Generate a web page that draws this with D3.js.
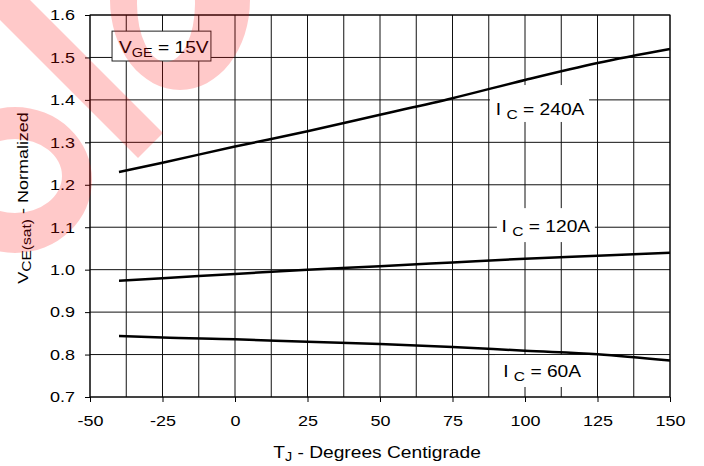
<!DOCTYPE html>
<html>
<head>
<meta charset="utf-8">
<script src="https://cdn.jsdelivr.net/npm/d3@7"></script>
<style>
  html, body { margin: 0; padding: 0; background: #fff; }
  svg { display: block; font-family: "Liberation Sans", Arial, sans-serif; }
</style>
</head>
<body>
<div id="chart"></div>
<script>
// junction temperature (deg C) where the curves were read
const temps = [-40, -25, 0, 25, 50, 75, 100, 125, 150];
// normalized VCE(sat) per collector current
const ic240 = [1.23, 1.252, 1.29, 1.326, 1.365, 1.404, 1.447, 1.487, 1.52];
const ic120 = [0.974, 0.98, 0.99, 1.0, 1.008, 1.017, 1.026, 1.033, 1.04];
const ic60 = [0.844, 0.84, 0.836, 0.83, 0.825, 0.818, 0.809, 0.801, 0.786];
const seriesNames = ["240A", "120A", "60A"];

const xTicks = [-50, -25, 0, 25, 50, 75, 100, 125, 150];
const yTicks = [0.7, 0.8, 0.9, 1.0, 1.1, 1.2, 1.3, 1.4, 1.5, 1.6];
const xGrid = d3.range(-50, 150.01, 12.5);

const W = 704, H = 466;
const margin = {top: 15, right: 34, bottom: 69, left: 90};
const width = W - margin.left - margin.right,
      height = H - margin.top - margin.bottom;
const SX = 1.2; // the source font is set wide

const x = d3.scaleLinear().domain([-50, 150]).range([0, width]);
const y = d3.scaleLinear().domain([0.7, 1.6]).range([height, 0]);

const svg = d3.select("#chart").append("svg")
    .attr("width", W)
    .attr("height", H);
svg.append("rect").attr("width", W).attr("height", H).attr("fill", "#fff");

const g = svg.append("g")
    .attr("transform", `translate(${margin.left},${margin.top})`);

// grid
g.append("g").selectAll("line")
    .data(xGrid).enter().append("line")
    .attr("x1", d => x(d)).attr("x2", d => x(d))
    .attr("y1", 0).attr("y2", height)
    .attr("stroke", "#111").attr("stroke-width", 1);
g.append("g").selectAll("line")
    .data(yTicks).enter().append("line")
    .attr("y1", d => y(d)).attr("y2", d => y(d))
    .attr("x1", 0).attr("x2", width)
    .attr("stroke", "#111").attr("stroke-width", 1);
g.append("rect")
    .attr("width", width).attr("height", height)
    .attr("fill", "none").attr("stroke", "#000");

// white boxes behind curve labels
const labels = [
  {name: seriesNames[0], x0: 87.9, x1: 122.1, y0: 1.435, y1: 1.348, tx: 105.2, ty: 1.364},
  {name: seriesNames[1], x0: 90.3, x1: 124.1, y0: 1.145, y1: 1.065, tx: 107.2, ty: 1.0887},
  {name: seriesNames[2], x0: 89.7, x1: 122.4, y0: 0.799, y1: 0.7236, tx: 105.9, ty: 0.747}
];
g.append("g").selectAll("rect")
    .data(labels).enter().append("rect")
    .attr("x", d => x(d.x0)).attr("width", d => x(d.x1) - x(d.x0))
    .attr("y", d => y(d.y0)).attr("height", d => y(d.y1) - y(d.y0))
    .attr("fill", "#fff");

// curves
const line = d3.line()
    .x((d, i) => x(temps[i]))
    .y(d => y(d))
    .curve(d3.curveMonotoneX);
g.append("g").selectAll("path")
    .data([ic240, ic120, ic60]).enter().append("path")
    .attr("d", line)
    .attr("fill", "none")
    .attr("stroke", "#000")
    .attr("stroke-width", 2.5);

// curve labels
const lt = g.append("g").selectAll("text")
    .data(labels).enter().append("text")
    .attr("transform", d => `translate(${x(d.tx)},${y(d.ty)}) scale(${SX},1)`)
    .attr("text-anchor", "middle")
    .attr("font-size", 16)
    .attr("fill", "#000");
lt.append("tspan").text("I ");
lt.append("tspan").attr("dy", 4).attr("font-size", 13).text("C");
lt.append("tspan").attr("dy", -4).text(d => " = " + d.name);

// VGE box
g.append("rect")
    .attr("x", x(-42.4)).attr("width", x(-8.3) - x(-42.4))
    .attr("y", y(1.562)).attr("height", y(1.4916) - y(1.562))
    .attr("fill", "#fff").attr("stroke", "#222");
const vt = g.append("text")
    .attr("transform", `translate(${x(-40)},${y(1.5105)}) scale(${SX},1)`)
    .attr("font-size", 16).attr("fill", "#000");
vt.append("tspan").text("V");
vt.append("tspan").attr("dy", 4).attr("font-size", 12).text("GE");
vt.append("tspan").attr("dy", -4).text(" = 15V");

// axes
const xAxis = g.append("g")
    .attr("transform", `translate(0,${height})`)
    .call(d3.axisBottom(x).tickValues(xTicks).tickSizeInner(5).tickSizeOuter(0).tickFormat(d => String(d)));
const yAxis = g.append("g")
    .call(d3.axisLeft(y).tickValues(yTicks).tickSizeInner(5).tickSizeOuter(0).tickFormat(d => d.toFixed(1)));
[xAxis, yAxis].forEach(a => {
  a.select(".domain").remove();
  a.selectAll("line").attr("stroke", "#000");
  a.selectAll("text")
      .attr("font-family", "Liberation Sans, Arial, sans-serif")
      .attr("font-size", 15)
      .attr("fill", "#000");
});
xAxis.selectAll("text").attr("y", 18).attr("transform", `scale(${SX},1)`);
yAxis.selectAll("text").attr("x", -12.5).attr("transform", `scale(${SX},1)`);

// axis titles
const xt = svg.append("text")
    .attr("transform", `translate(377,458) scale(${SX},1)`)
    .attr("text-anchor", "middle").attr("font-size", 16).attr("fill", "#000");
xt.append("tspan").text("T");
xt.append("tspan").attr("dy", 3).attr("font-size", 12).text("J");
xt.append("tspan").attr("dy", -3).text(" - Degrees Centigrade");

const yt = svg.append("text")
    .attr("transform", `translate(28,198) rotate(-90) scale(${SX},1)`)
    .attr("text-anchor", "middle").attr("font-size", 15).attr("fill", "#000");
yt.append("tspan").text("V");
yt.append("tspan").attr("dy", 3).attr("font-size", 13).text("CE(sat)");
yt.append("tspan").attr("dy", -3).text(" - Normalized");

// pink watermark over the top-left corner
function ellipse(cx, cy, rx, ry) {
  return `M${cx - rx},${cy}A${rx},${ry} 0 1,0 ${cx + rx},${cy}A${rx},${ry} 0 1,0 ${cx - rx},${cy}Z`;
}
const wm = svg.append("g")
    .attr("fill", "#ff0000").attr("fill-opacity", 0.21).attr("fill-rule", "evenodd");
wm.append("path").attr("d", "M-30,-10L20,-10L163,133L138,158Z");
wm.append("path").attr("d", ellipse(180, 0, 70, 90) + ellipse(166, 4, 29, 58));
wm.append("path").attr("d", ellipse(15, 180, 77, 73) + ellipse(15, 176, 47, 37));
</script>
</body>
</html>
